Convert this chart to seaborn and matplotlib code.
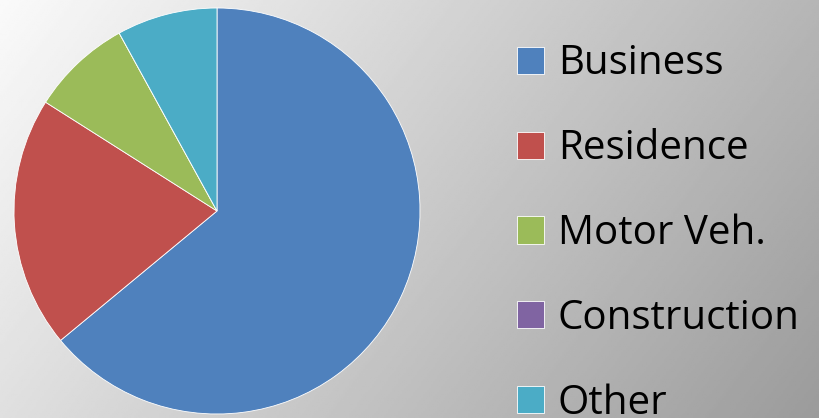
import numpy as np
import matplotlib
matplotlib.use("Agg")
import matplotlib.pyplot as plt
import seaborn as sns

# data
categories = ["Business", "Residence", "Motor Veh.", "Construction", "Other"]
shares = [64, 20, 8, 0, 8]
colors = ["#4F81BD", "#C0504D", "#9BBB59", "#8064A2", "#4BACC6"]

sns.set_theme(style="white")
plt.rcParams['font.family'] = ['Open Sans', 'DejaVu Sans']

W, H = 819, 418
fig = plt.figure(figsize=(W / 100, H / 100), dpi=100)

# diagonal grey gradient background
bg = fig.add_axes([0, 0, 1, 1], zorder=0)
xx, yy = np.meshgrid(np.linspace(0, 1, 400), np.linspace(0, 1, 200))
shade = (250 - 95 * (0.72 * xx + 0.28 * yy)) / 255
bg.imshow(shade, cmap="gray", vmin=0, vmax=1, aspect="auto", extent=[0, 1, 1, 0])
bg.axis("off")

# pie
cx, cy, r = 217, 211, 203
ax = fig.add_axes([(cx - r) / W, (H - cy - r) / H, 2 * r / W, 2 * r / H], zorder=1)
wedges, _ = ax.pie(shares, colors=colors, startangle=90, counterclock=False,
                   wedgeprops=dict(edgecolor="white", linewidth=0.6))
ax.set_xlim(-1, 1)
ax.set_ylim(-1, 1)
ax.set_aspect("equal")
ax.axis("off")

leg = fig.legend(wedges, categories, loc="upper left", bbox_to_anchor=(517 / W, 1 - 44 / H),
                 frameon=False, fontsize=29, handlelength=0.66, handleheight=0.66,
                 handletextpad=0.35, labelspacing=1.1, borderpad=0, borderaxespad=0)
for t in leg.get_texts():
    t.set_color("black")

fig.savefig("out.png", dpi=100)
